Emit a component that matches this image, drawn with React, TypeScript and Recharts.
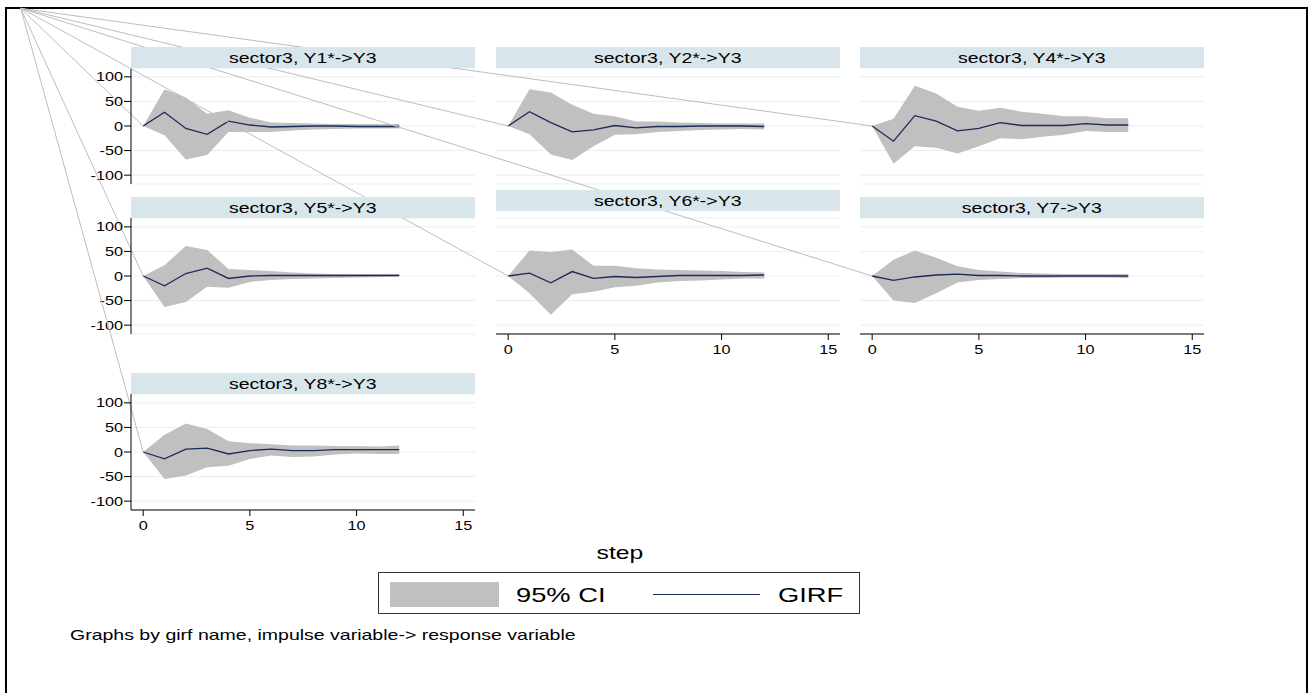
import React from "react";
import {
  ComposedChart,
  Area,
  Line,
  XAxis,
  YAxis,
  CartesianGrid,
  ReferenceLine,
} from "recharts";

// steps of the impulse response
const steps = [0, 1, 2, 3, 4, 5, 6, 7, 8, 9, 10, 11, 12];
const xTicks = [0, 5, 10, 15];
const yTicks = [-100, -50, 0, 50, 100];

const y1Girf = [0, 28, -5, -17, 10, 2, -2, -1, 0, 0, -1, -1, -1];
const y1Hi = [0, 75, 58, 25, 32, 17, 7, 6, 5, 4, 4, 4, 4];
const y1Lo = [0, -19, -68, -59, -12, -12, -12, -9, -7, -6, -5, -5, -5];

const y2Girf = [0, 29, 7, -12, -8, 1, -4, -1, -1, 0, 0, 0, -1];
const y2Hi = [0, 75, 68, 43, 25, 20, 9, 9, 7, 6, 5, 5, 5];
const y2Lo = [0, -17, -58, -69, -41, -18, -17, -12, -10, -8, -7, -6, -7];

const y4Girf = [0, -31, 21, 10, -10, -5, 7, 1, 1, 1, 5, 2, 2];
const y4Hi = [0, 15, 82, 66, 39, 31, 37, 29, 25, 20, 20, 16, 16];
const y4Lo = [0, -77, -41, -44, -56, -41, -25, -27, -22, -18, -10, -12, -12];

const y5Girf = [0, -20, 5, 16, -5, 0, 1, 1, 1, 1, 1, 1, 1];
const y5Hi = [0, 22, 61, 53, 14, 12, 10, 7, 5, 4, 4, 4, 4];
const y5Lo = [0, -63, -53, -22, -24, -12, -8, -6, -5, -4, -3, -2, -1];

const y6Girf = [0, 6, -14, 9, -5, -1, -3, -1, 1, 1, 1, 1, 2];
const y6Hi = [0, 52, 49, 54, 21, 21, 16, 13, 12, 11, 10, 8, 7];
const y6Lo = [0, -35, -79, -37, -32, -23, -20, -13, -10, -9, -7, -5, -5];

const y7Girf = [0, -9, -2, 2, 4, 1, 1, 0, 0, 0, 0, 0, 0];
const y7Hi = [0, 33, 52, 37, 20, 12, 9, 6, 5, 4, 4, 4, 4];
const y7Lo = [0, -50, -55, -35, -13, -8, -6, -4, -4, -3, -3, -3, -4];

const y8Girf = [0, -14, 6, 8, -4, 3, 6, 3, 3, 5, 5, 5, 5];
const y8Hi = [0, 35, 58, 47, 22, 18, 16, 13, 13, 12, 12, 11, 13];
const y8Lo = [0, -55, -48, -31, -28, -14, -7, -10, -9, -5, -3, -4, -4];

const FONT = '"Liberation Sans", Arial, Helvetica, sans-serif';
const STRETCH = 1.3;
const NAVY = "#1c2b5a";
const BAND = "#c0c0c0";
const HEADER_BG = "#d8e5eb";
const GRID = "#e6eff1";

const X_DOMAIN: [number, number] = [-0.57, 15.55];
const Y_DOMAIN: [number, number] = [-118, 118];
const PLOT_W = 344;
const PLOT_H = 116;
const COL_LEFT = [131, 495.5, 860];
const ROW_TOP = [68, 218, 394];
// stray lines all run out of this corner of the graph region
const CORNER = { x: 20.7, y: 8.3 };

type PanelDef = {
  title: string;
  girf: number[];
  lo: number[];
  hi: number[];
  col: number;
  row: number;
  showX: boolean;
  showY: boolean;
  headerShift: number;
};

const panels: PanelDef[] = [
  { title: "sector3, Y1*->Y3", girf: y1Girf, lo: y1Lo, hi: y1Hi, col: 0, row: 0, showX: false, showY: true, headerShift: 0 },
  { title: "sector3, Y2*->Y3", girf: y2Girf, lo: y2Lo, hi: y2Hi, col: 1, row: 0, showX: false, showY: false, headerShift: 0 },
  { title: "sector3, Y4*->Y3", girf: y4Girf, lo: y4Lo, hi: y4Hi, col: 2, row: 0, showX: false, showY: false, headerShift: 0 },
  { title: "sector3, Y5*->Y3", girf: y5Girf, lo: y5Lo, hi: y5Hi, col: 0, row: 1, showX: false, showY: true, headerShift: 0 },
  { title: "sector3, Y6*->Y3", girf: y6Girf, lo: y6Lo, hi: y6Hi, col: 1, row: 1, showX: true, showY: false, headerShift: -7 },
  { title: "sector3, Y7->Y3", girf: y7Girf, lo: y7Lo, hi: y7Hi, col: 2, row: 1, showX: true, showY: false, headerShift: 0 },
  { title: "sector3, Y8*->Y3", girf: y8Girf, lo: y8Lo, hi: y8Hi, col: 0, row: 2, showX: true, showY: true, headerShift: 0 },
];

function YTick(props: any) {
  const { x, y, payload } = props;
  return (
    <g transform={`translate(${x},${y})`}>
      <text
        transform={`scale(${STRETCH},1)`}
        textAnchor="end"
        dy="0.36em"
        fontSize={12.5}
        fontFamily={FONT}
        fill="#000"
      >
        {payload.value}
      </text>
    </g>
  );
}

function XTick(props: any) {
  const { x, y, payload } = props;
  return (
    <g transform={`translate(${x},${y})`}>
      <text
        transform={`scale(${STRETCH},1)`}
        textAnchor="middle"
        dy="0.72em"
        fontSize={12.5}
        fontFamily={FONT}
        fill="#000"
      >
        {payload.value}
      </text>
    </g>
  );
}

function Panel({ p }: { p: PanelDef }) {
  const data = steps.map((s, i) => ({ step: s, girf: p.girf[i], ci: [p.lo[i], p.hi[i]] }));
  const plotLeft = COL_LEFT[p.col];
  const plotTop = ROW_TOP[p.row];
  // corner of the whole graph, expressed in this panel's data units
  const cx = X_DOMAIN[0] + ((CORNER.x - plotLeft) / PLOT_W) * (X_DOMAIN[1] - X_DOMAIN[0]);
  const cy = Y_DOMAIN[1] - ((CORNER.y - plotTop) / PLOT_H) * (Y_DOMAIN[1] - Y_DOMAIN[0]);

  return (
    <div style={{ position: "absolute", left: plotLeft - 50, top: plotTop - 10 }}>
      <ComposedChart
        width={50 + PLOT_W + 10}
        height={10 + PLOT_H + 40}
        data={data}
        margin={{ top: 10, right: 10, left: p.showY ? 10 : 50, bottom: p.showX ? 10 : 40 }}
      >
        <CartesianGrid vertical={false} stroke={GRID} strokeWidth={1} />
        <XAxis
          dataKey="step"
          type="number"
          domain={X_DOMAIN}
          ticks={xTicks}
          allowDataOverflow
          hide={!p.showX}
          height={30}
          stroke="#000"
          tickSize={6}
          tickMargin={5}
          tick={<XTick />}
        />
        <YAxis
          type="number"
          domain={Y_DOMAIN}
          ticks={yTicks}
          allowDataOverflow
          hide={!p.showY}
          width={40}
          stroke="#000"
          tickSize={7}
          tickMargin={1}
          tick={<YTick />}
        />
        <Area
          type="linear"
          dataKey="ci"
          fill={BAND}
          fillOpacity={1}
          stroke="none"
          isAnimationActive={false}
        />
        <Line
          type="linear"
          dataKey="girf"
          stroke={NAVY}
          strokeWidth={1.3}
          dot={false}
          isAnimationActive={false}
        />
        <ReferenceLine
          segment={[
            { x: cx, y: cy },
            { x: steps[0], y: p.girf[0] },
          ]}
          stroke="#bdbdbd"
          strokeWidth={1}
          ifOverflow="visible"
        />
      </ComposedChart>
    </div>
  );
}

function Stretched({
  children,
  size,
  origin = "left center",
}: {
  children: React.ReactNode;
  size: number;
  origin?: string;
}) {
  return (
    <span
      style={{
        display: "inline-block",
        fontSize: size,
        fontFamily: FONT,
        color: "#000",
        transform: `scaleX(${STRETCH})`,
        transformOrigin: origin,
        whiteSpace: "nowrap",
      }}
    >
      {children}
    </span>
  );
}

export default function App() {
  return (
    <div
      style={{
        position: "absolute",
        left: 0,
        top: 0,
        width: 1309,
        height: 693,
        overflow: "hidden",
        background: "#fff",
      }}
    >
      <style>{`.recharts-surface{overflow:visible}`}</style>
      <div
        style={{
          position: "absolute",
          left: 5,
          top: 7,
          width: 1303,
          height: 720,
          boxSizing: "border-box",
          border: "2px solid #000",
        }}
      />
      {panels.map((p) => (
        <Panel key={p.title} p={p} />
      ))}
      {panels.map((p) => (
        <div
          key={p.title + "-h"}
          style={{
            position: "absolute",
            left: COL_LEFT[p.col],
            top: ROW_TOP[p.row] - 21 + p.headerShift,
            width: PLOT_W,
            height: 21,
            lineHeight: "21px",
            background: HEADER_BG,
            textAlign: "center",
          }}
        >
          <Stretched size={15} origin="center center">
            {p.title}
          </Stretched>
        </div>
      ))}
      <div
        style={{
          position: "absolute",
          left: 520,
          top: 541,
          width: 200,
          textAlign: "center",
          lineHeight: "24px",
        }}
      >
        <Stretched size={19} origin="center center">
          step
        </Stretched>
      </div>
      <div
        style={{
          position: "absolute",
          left: 378,
          top: 572,
          width: 482,
          height: 42,
          boxSizing: "border-box",
          border: "1px solid #333",
          background: "#fff",
        }}
      >
        <div
          style={{ position: "absolute", left: 11, top: 9, width: 109, height: 25, background: BAND }}
        />
        <div style={{ position: "absolute", left: 137, top: 10, lineHeight: "24px" }}>
          <Stretched size={21}>95% CI</Stretched>
        </div>
        <div
          style={{
            position: "absolute",
            left: 274,
            top: 21,
            width: 107,
            height: 0,
            borderTop: `1.5px solid ${NAVY}`,
          }}
        />
        <div style={{ position: "absolute", left: 399, top: 10, lineHeight: "24px" }}>
          <Stretched size={21}>GIRF</Stretched>
        </div>
      </div>
      <div style={{ position: "absolute", left: 70, top: 624, lineHeight: "22px" }}>
        <Stretched size={15}>Graphs by girf name, impulse variable-&gt; response variable</Stretched>
      </div>
    </div>
  );
}
